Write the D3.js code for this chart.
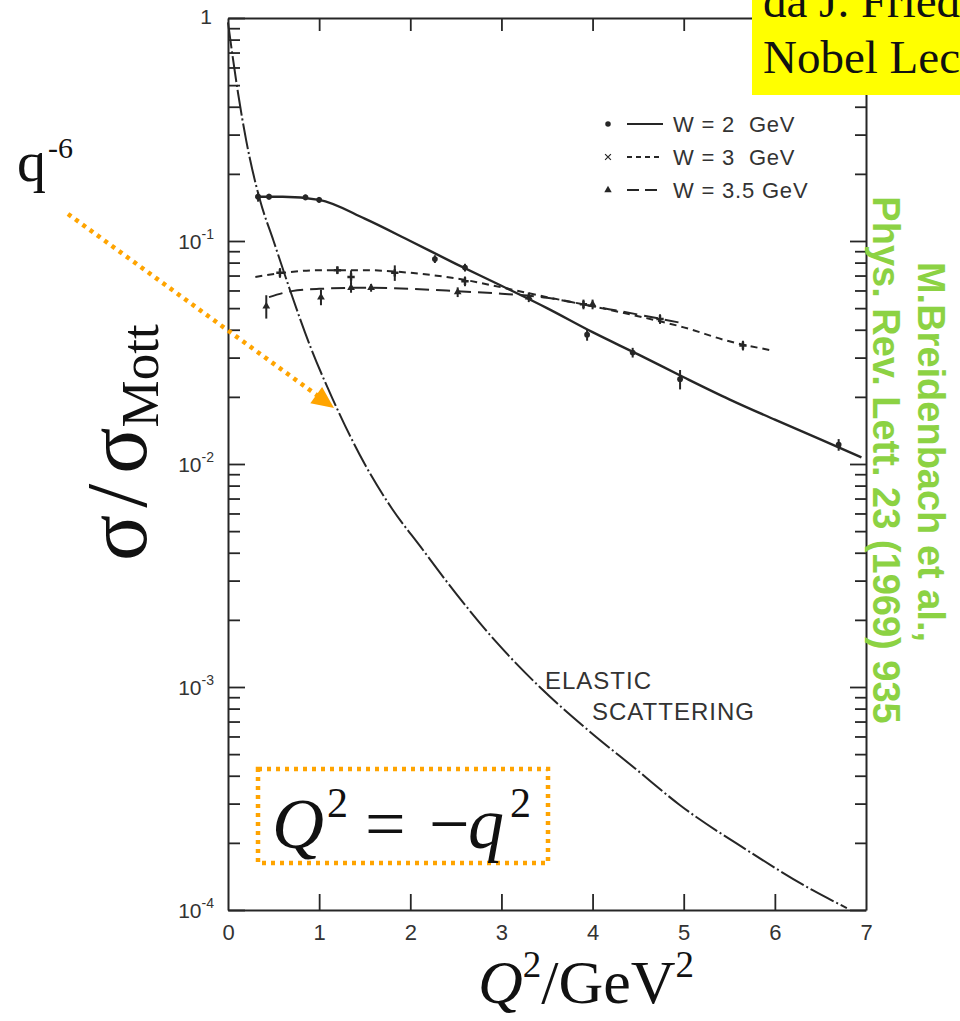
<!DOCTYPE html>
<html>
<head>
<meta charset="utf-8">
<script src="https://cdnjs.cloudflare.com/ajax/libs/d3/7.8.5/d3.min.js"></script>
<style>
  body { margin: 0; background: #fff; }
  svg { display: block; }
  .scan { font-family: "Liberation Sans", Arial, sans-serif; fill: #333; }
  .serif { font-family: "Liberation Serif", "Times New Roman", serif; fill: #111; }
</style>
</head>
<body>
<div id="chart"></div>
<script>
// elastic scattering curve (Q^2 in GeV^2, sigma/sigma_Mott)
var elasticQ2  = [0, 0.05, 0.11, 0.2, 0.35, 0.5, 0.68, 0.9, 1.15, 1.5, 1.8, 2.11, 2.5, 2.95, 3.42, 3.94, 4.48, 4.96, 5.69, 6.41, 6.79];
var elasticVal = [0.955, 0.676, 0.461, 0.282, 0.153, 0.100, 0.0603, 0.0339, 0.0195, 0.0100, 0.0063, 0.00427, 0.00263, 0.00158, 0.00100, 0.000646, 0.000427, 0.000295, 0.000186, 0.000123, 0.000102];

// fitted curves
var w2Q2  = [0.3, 0.6, 1.0, 1.5, 2.0, 2.5, 3.0, 3.5, 4.0, 4.5, 5.0, 5.5, 6.0, 6.5, 6.95];
var w2Val = [0.158, 0.158, 0.153, 0.126, 0.100, 0.079, 0.063, 0.050, 0.039, 0.031, 0.0245, 0.0195, 0.0158, 0.0129, 0.0107];
var w3Q2  = [0.3, 0.6, 1.0, 1.5, 2.0, 2.5, 3.0, 3.5, 4.0, 4.5, 5.0, 5.5, 5.95];
var w3Val = [0.069, 0.072, 0.074, 0.074, 0.072, 0.068, 0.062, 0.056, 0.051, 0.046, 0.041, 0.0355, 0.0324];
var w35Q2  = [0.45, 0.7, 1.0, 1.5, 2.0, 2.5, 3.0, 3.5, 4.0, 4.5, 5.0];
var w35Val = [0.056, 0.0596, 0.061, 0.0617, 0.061, 0.0596, 0.058, 0.0556, 0.051, 0.0468, 0.0427];

// measured points (value, relative error)
var w2PtQ2  = [0.33, 0.45, 0.85, 1.0, 2.27, 2.6, 3.94, 4.44, 4.96, 6.7];
var w2PtVal = [0.158, 0.158, 0.157, 0.153, 0.083, 0.076, 0.038, 0.0316, 0.024, 0.0122];
var w2PtErr = [0.05, 0.03, 0.03, 0.03, 0.04, 0.04, 0.06, 0.05, 0.10, 0.06];
var w3PtQ2  = [0.57, 1.2, 1.35, 1.83, 2.6, 3.9, 4.74, 5.65];
var w3PtVal = [0.072, 0.074, 0.069, 0.072, 0.066, 0.052, 0.0447, 0.034];
var w3PtErr = [0.05, 0.04, 0.07, 0.08, 0.05, 0.05, 0.05, 0.05];
var w35PtQ2  = [0.42, 1.02, 1.35, 1.57, 2.52, 3.3, 4.0];
var w35PtVal = [0.051, 0.056, 0.0617, 0.0617, 0.059, 0.056, 0.052];
var w35PtErr = [0.12, 0.08, 0.05, 0.04, 0.05, 0.05, 0.05];

var xTicks = [0, 1, 2, 3, 4, 5, 6, 7];
var yDecades = [1e-4, 1e-3, 1e-2, 1e-1, 1];
var yDecadeLabels = [["10", "-4"], ["10", "-3"], ["10", "-2"], ["10", "-1"], ["1", ""]];
var legendLabels = ["W = 2\u00a0 GeV", "W = 3\u00a0 GeV", "W = 3.5 GeV"];

var width = 960, height = 1021;
var svg = d3.select("#chart").append("svg")
  .attr("width", width).attr("height", height);
svg.append("rect").attr("width", width).attr("height", height).attr("fill", "#fff");

var x = d3.scaleLinear().domain([0, 7]).range([228, 866]);
var y = d3.scaleLog().domain([1e-4, 1]).range([910, 18]);

// minor ticks 2..9 in each decade
var minorTicks = [];
yDecades.slice(0, 4).forEach(function (d) {
  for (var k = 2; k <= 9; k++) minorTicks.push(d * k);
});
var allYTicks = yDecades.concat(minorTicks);
function isMajor(d) { return yDecades.indexOf(d) >= 0; }

var ink = "#262626";

// frame + ticks
var axLeft = svg.append("g").attr("transform", "translate(228,0)")
  .call(d3.axisLeft(y).tickValues(allYTicks).tickSize(-12).tickFormat("").tickSizeOuter(0));
axLeft.selectAll(".tick line").attr("x2", function (d) { return isMajor(d) ? 17 : 12; });

var axRight = svg.append("g").attr("transform", "translate(866,0)")
  .call(d3.axisRight(y).tickValues(allYTicks).tickSize(-12).tickFormat("").tickSizeOuter(0));
axRight.selectAll(".tick line").attr("x2", function (d) { return isMajor(d) ? -16 : -11; });

var axTop = svg.append("g").attr("transform", "translate(0,18)")
  .call(d3.axisTop(x).tickValues([1, 2, 3, 4, 5, 6]).tickSize(-13).tickFormat("").tickSizeOuter(0));

var axBottom = svg.append("g").attr("transform", "translate(0,910)")
  .call(d3.axisBottom(x).tickValues(xTicks).tickSize(-16).tickPadding(14).tickFormat(d3.format("d")).tickSizeOuter(0));
axBottom.selectAll(".tick line").filter(function (d) { return d === 0 || d === 7; }).remove();
axBottom.selectAll(".tick text").attr("class", "scan").attr("font-size", 22).attr("fill", "#333");

[axLeft, axRight, axTop, axBottom].forEach(function (g) {
  g.select(".domain").attr("stroke", ink).attr("stroke-width", 2);
  g.selectAll(".tick line").attr("stroke", ink).attr("stroke-width", 1.8);
});

// y decade labels
var yl = svg.append("g").selectAll("text").data(yDecades).enter().append("text")
  .attr("class", "scan")
  .attr("x", 214)
  .attr("y", function (d) { return y(d) + 8; })
  .attr("text-anchor", "end")
  .attr("font-size", 21);
yl.each(function (d, i) {
  var t = d3.select(this);
  var lab = yDecadeLabels[i];
  if (lab[1] === "") {
    t.text(lab[0]).attr("x", 212).attr("y", y(d) + 6);
  } else {
    t.append("tspan").text(lab[0]);
    t.append("tspan").text(lab[1]).attr("font-size", 14).attr("dy", -10);
  }
});

// curves
var line = d3.line()
  .x(function (d) { return x(d[0]); })
  .y(function (d) { return y(d[1]); })
  .curve(d3.curveMonotoneX);

function pairs(a, b) { return a.map(function (v, i) { return [v, b[i]]; }); }

var plot = svg.append("g");
plot.append("path").datum(pairs(elasticQ2, elasticVal))
  .attr("d", line).attr("fill", "none").attr("stroke", ink).attr("stroke-width", 2)
  .attr("stroke-dasharray", "26,3,2,3");
plot.append("path").datum(pairs(w2Q2, w2Val))
  .attr("d", line).attr("fill", "none").attr("stroke", ink).attr("stroke-width", 2.4);
plot.append("path").datum(pairs(w3Q2, w3Val))
  .attr("d", line).attr("fill", "none").attr("stroke", ink).attr("stroke-width", 2)
  .attr("stroke-dasharray", "7,5");
plot.append("path").datum(pairs(w35Q2, w35Val))
  .attr("d", line).attr("fill", "none").attr("stroke", ink).attr("stroke-width", 2)
  .attr("stroke-dasharray", "14,7");

// error bars + markers
function drawPoints(qs, vals, errs, shape) {
  var g = plot.append("g");
  qs.forEach(function (q, i) {
    var v = vals[i], e = errs[i];
    g.append("line")
      .attr("x1", x(q)).attr("x2", x(q))
      .attr("y1", y(v * (1 + e))).attr("y2", y(v * (1 - e)))
      .attr("stroke", ink).attr("stroke-width", 2);
    g.append("path")
      .attr("transform", "translate(" + x(q) + "," + y(v) + ")")
      .attr("d", d3.symbol().type(shape).size(shape === d3.symbolCross ? 30 : 26)())
      .attr("fill", ink);
  });
}
drawPoints(w2PtQ2, w2PtVal, w2PtErr, d3.symbolCircle);
drawPoints(w3PtQ2, w3PtVal, w3PtErr, d3.symbolCross);
drawPoints(w35PtQ2, w35PtVal, w35PtErr, d3.symbolTriangle);

// legend
var legShapes = [d3.symbolCircle, d3.symbolX, d3.symbolTriangle];
var legDash = [null, "5,4", "12,6"];
var leg = svg.append("g").selectAll("g").data(legendLabels).enter().append("g")
  .attr("transform", function (d, i) { return "translate(0," + (124 + i * 33) + ")"; });
leg.append("path")
  .attr("transform", "translate(608,0)")
  .attr("d", function (d, i) { return d3.symbol().type(legShapes[i]).size(24)(); })
  .attr("fill", ink).attr("stroke", function (d, i) { return i === 1 ? ink : "none"; })
  .attr("stroke-width", 1.2);
leg.append("line").attr("x1", 627).attr("x2", 663)
  .attr("stroke", ink).attr("stroke-width", 1.8)
  .attr("stroke-dasharray", function (d, i) { return legDash[i]; });
leg.append("text").attr("class", "scan").attr("x", 673).attr("y", 8)
  .attr("font-size", 22).attr("letter-spacing", 0.8).text(function (d) { return d; });

// elastic label
svg.append("text").attr("class", "scan").attr("x", 545).attr("y", 689)
  .attr("font-size", 24).attr("letter-spacing", 1).text("ELASTIC");
svg.append("text").attr("class", "scan").attr("x", 592).attr("y", 720)
  .attr("font-size", 24).attr("letter-spacing", 1).text("SCATTERING");

// axis titles
var yt = svg.append("text").attr("class", "serif")
  .attr("transform", "translate(146,561) rotate(-90)")
  .attr("font-size", 86);
yt.append("tspan").text("σ");
yt.append("tspan").text("/").attr("dx", 7);
yt.append("tspan").text("σ").attr("dx", 10);
yt.append("tspan").text("Mott").attr("font-size", 53).attr("dy", 12);

var xt = svg.append("text").attr("class", "serif")
  .attr("x", 478).attr("y", 1003).attr("font-size", 62);
xt.append("tspan").text("Q").attr("font-style", "italic");
xt.append("tspan").text("2").attr("font-size", 37).attr("dy", -26);
xt.append("tspan").text("/GeV").attr("dy", 26);
xt.append("tspan").text("2").attr("font-size", 37).attr("dy", -26);

// annotations
var orange = "#ffa400";
svg.append("rect").attr("x", 258).attr("y", 769).attr("width", 290).attr("height", 94)
  .attr("fill", "none").attr("stroke", orange).attr("stroke-width", 4.5)
  .attr("stroke-dasharray", "4,5");
var eq = svg.append("text").attr("class", "serif").attr("y", 848)
  .attr("font-size", 72).attr("fill", "#222");
eq.append("tspan").attr("x", 272).text("Q").attr("font-style", "italic");
eq.append("tspan").attr("x", 327).text("2").attr("font-size", 42).attr("dy", -31);
eq.append("tspan").attr("x", 365).text("=").attr("dy", 31);
eq.append("tspan").attr("x", 429).text("−");
eq.append("tspan").attr("x", 468).text("q").attr("font-style", "italic");
eq.append("tspan").attr("x", 510).text("2").attr("font-size", 42).attr("dy", -31);

svg.append("text").attr("class", "serif").attr("x", 17).attr("y", 181)
  .attr("font-size", 58).text("q");
svg.append("text").attr("class", "serif").attr("x", 48).attr("y", 158)
  .attr("font-size", 30).text("-6");

svg.append("line").attr("x1", 68).attr("y1", 214).attr("x2", 318).attr("y2", 396)
  .attr("stroke", orange).attr("stroke-width", 4.5).attr("stroke-dasharray", "4,5");
var ang = Math.atan2(396 - 214, 318 - 68) * 180 / Math.PI;
svg.append("path")
  .attr("transform", "translate(334,408) rotate(" + ang + ")")
  .attr("d", "M0,0 L-22,-10 L-22,10 Z").attr("fill", orange);

// yellow source box
svg.append("rect").attr("x", 752).attr("y", 0).attr("width", 208).attr("height", 95)
  .attr("fill", "#ffff00");
svg.append("text").attr("class", "serif").attr("x", 763).attr("y", 17)
  .attr("font-size", 47).attr("fill", "#000").text("da J. Friedman");
svg.append("text").attr("class", "serif").attr("x", 763).attr("y", 73)
  .attr("font-size", 47).attr("fill", "#000").text("Nobel Lecture");

// reference, rotated
var green = "#8cd243";
svg.append("text").attr("transform", "translate(918,452) rotate(90)")
  .attr("text-anchor", "middle").attr("font-family", "Liberation Sans, Arial, sans-serif")
  .attr("font-weight", "bold").attr("font-size", 38).attr("fill", green)
  .text("M.Breidenbach et al.,");
svg.append("text").attr("transform", "translate(873,460) rotate(90)")
  .attr("text-anchor", "middle").attr("font-family", "Liberation Sans, Arial, sans-serif")
  .attr("font-weight", "bold").attr("font-size", 38).attr("fill", green)
  .text("Phys. Rev. Lett. 23 (1969) 935");
</script>
</body>
</html>
